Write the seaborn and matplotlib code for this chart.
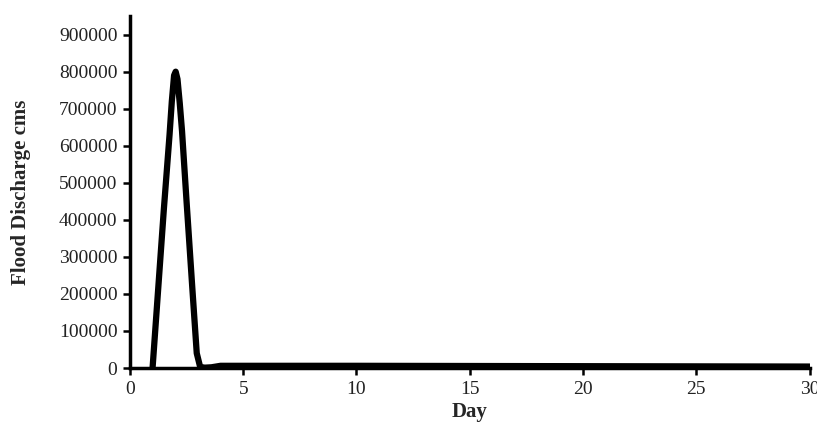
import matplotlib
matplotlib.use("Agg")
import matplotlib.pyplot as plt
import numpy as np
import pandas as pd
import seaborn as sns

days = [1.0, 1.25, 1.5, 1.75, 1.85, 1.95, 2.02, 2.1, 2.2, 2.3, 2.5, 2.75, 2.95, 3.1, 3.3, 3.6, 4.0,
        5, 10, 15, 20, 25, 30]
discharge = [0, 215000, 430000, 630000, 720000, 790000, 800000, 780000, 715000, 640000, 450000,
             220000, 40000, 3000, 1000, 2000, 6000, 6000, 6000, 5500, 5000, 4500, 4000]
x_ticks = [0, 5, 10, 15, 20, 25, 30]
y_ticks = [0, 100000, 200000, 300000, 400000, 500000, 600000, 700000, 800000, 900000]

sns.set_style("ticks")
plt.rcParams["font.family"] = ["Liberation Serif", "DejaVu Serif"]

df = pd.DataFrame({"Day": days, "Flood Discharge cms": discharge})

fig = plt.figure(figsize=(8.17, 4.24), dpi=100)
ax = fig.add_axes([0.159, 0.132, 0.832, 0.830])
sns.lineplot(data=df, x="Day", y="Flood Discharge cms", ax=ax, color="black", linewidth=4.5)

ax.set_xlim(0, 30)
ax.set_ylim(0, 950000)
ax.set_xticks(x_ticks)
ax.set_yticks(y_ticks)
ax.set_xticklabels([str(t) for t in x_ticks], fontsize=14, color="#222222")
ax.set_yticklabels([str(t) for t in y_ticks], fontsize=14, color="#222222")
ax.tick_params(direction="out", length=5, width=1.8, pad=4, colors="black", labelcolor="#222222")
ax.set_xlabel("Day", fontsize=15, fontweight="bold", labelpad=3)
ax.set_ylabel("Flood Discharge cms", fontsize=15, fontweight="bold", labelpad=20)
for s in ["left", "bottom"]:
    ax.spines[s].set_linewidth(2.5)
    ax.spines[s].set_color("black")
sns.despine(ax=ax)

fig.savefig("out.png", dpi=100)
